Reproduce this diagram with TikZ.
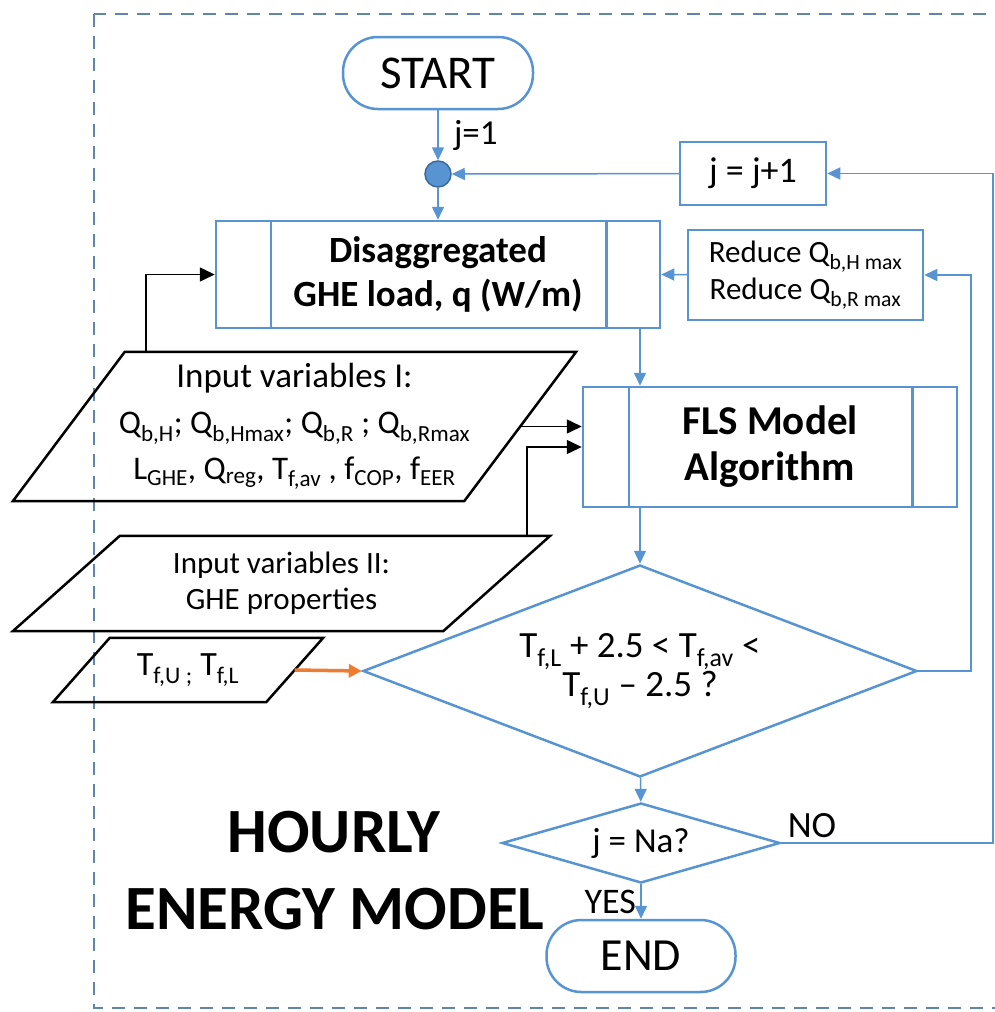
\documentclass[tikz,border=0pt]{standalone}
\usepackage{fontspec}
\setmainfont{Carlito}
\usetikzlibrary{shapes,arrows.meta,positioning,calc}
\definecolor{flowblue}{RGB}{88,148,210}
\definecolor{dotblue}{RGB}{60,105,155}
\definecolor{framegray}{RGB}{96,132,172}
\definecolor{feedorange}{RGB}{237,125,49}

% slanted outline round a data node: #1 node name, #2 half of the slant
\newcommand{\slantbox}[2]{%
  \draw[para] ($(#1.north west)+(#2,0)$) -- ($(#1.north east)+(#2,0)$)
    -- ($(#1.south east)-(#2,0)$) -- ($(#1.south west)-(#2,0)$) -- cycle;}

\begin{document}
\begin{tikzpicture}[x=1pt, y=-1pt,
    box/.style={draw=flowblue, line width=2.5pt, inner sep=0pt, align=center},
    term/.style={box, rounded corners=35pt, minimum width=190pt, minimum height=72pt},
    data/.style={inner sep=0pt, align=center},
    para/.style={draw=black, line width=2.5pt},
    cond/.style={box, diamond},
    flow/.style={flowblue, line width=1.5pt, -{Triangle[length=13pt, width=12pt]}},
    feed/.style={black, line width=1.5pt, -{Triangle[length=15pt, width=14pt]}},
    frame/.style={framegray, line width=2.2pt, dash pattern=on 13pt off 9pt}
]
    \useasboundingbox (0,0) rectangle (995,1012);
    \clip (0,0) rectangle (995,1012);
    \draw[frame] (94,14) rectangle (1020,1008);

    % main column
    \node[term, font=\fontsize{47}{52}\selectfont] (start) at (438,73) {START};
    \node[circle, draw=dotblue, fill=flowblue, line width=1.5pt, minimum size=26pt, inner sep=0pt] (join) at (438,174) {};
    \node[box, minimum width=444pt, minimum height=107pt, font=\bfseries\fontsize{37}{44}\selectfont] (load) at (438,274.5) {Disaggregated\\GHE load, q (W/m)};
    \node[box, minimum width=146pt, minimum height=63pt, font=\fontsize{36}{42}\selectfont] (step) at (753,173.5) {j = j+1};
    \node[box, minimum width=235pt, minimum height=90pt, font=\fontsize{31}{37}\selectfont] (reduce) at (805.5,275) {Reduce Q\textsubscript{b,H max}\\Reduce Q\textsubscript{b,R max}};
    \node[box, minimum width=374pt, minimum height=120pt, font=\bfseries\fontsize{41}{46}\selectfont] (fls) at (770,447) {FLS Model\\Algorithm};
    \node[cond, aspect=2.6, minimum width=554pt, minimum height=212pt, font=\fontsize{37}{39}\selectfont] (check) at (640,671) {T\textsubscript{f,L} + 2.5 < T\textsubscript{f,av} <\\T\textsubscript{f,U} -- 2.5 ?};
    \node[cond, aspect=3.5, minimum width=278pt, minimum height=80pt, font=\fontsize{35}{38}\selectfont] (last) at (641,843) {j = Na?};
    \node[term, minimum width=189pt, font=\fontsize{46}{52}\selectfont] (end) at (641,956) {END};

    % inputs
    \node[data, minimum width=451pt, minimum height=149pt, font=\fontsize{33}{46}\selectfont] (inI) at (294.5,426.5)
        {{\fontsize{35}{46}\selectfont Input variables I:}\\Q\textsubscript{b,H}; Q\textsubscript{b,Hmax}; Q\textsubscript{b,R} ; Q\textsubscript{b,Rmax}\\L\textsubscript{GHE}, Q\textsubscript{reg}, T\textsubscript{f,av} , f\textsubscript{COP}, f\textsubscript{EER}};
    \node[data, minimum width=430pt, minimum height=95pt, font=\fontsize{31}{36}\selectfont] (inII) at (281.5,583.5)
        {Input variables II:\\GHE properties};
    \node[data, minimum width=213pt, minimum height=64pt, font=\fontsize{34}{36}\selectfont] (tf) at (188,670)
        {T\textsubscript{f,U ;} T\textsubscript{f,L}};
    \slantbox{inI}{56}
    \slantbox{inII}{53.5}
    \slantbox{tf}{28.5}

    % sub-process bars
    \draw[flowblue, line width=2.5pt] ([xshift=56pt]load.north west) -- ([xshift=56pt]load.south west);
    \draw[flowblue, line width=2.5pt] ([xshift=-55pt]load.north east) -- ([xshift=-55pt]load.south east);
    \draw[flowblue, line width=2.5pt] ([xshift=47pt]fls.north west) -- ([xshift=47pt]fls.south west);
    \draw[flowblue, line width=2.5pt] ([xshift=-46pt]fls.north east) -- ([xshift=-46pt]fls.south east);

    \coordinate (rim) at (993,843);
    \coordinate (side) at (971,671);

    \draw[flow] (start) -- (join) node[midway, right=12pt, black, font=\fontsize{35}{38}\selectfont] (init) {j=1};
    \draw[flow] (join) -- (load);
    \draw[flow] (step) -- (join);
    \draw[flow] (reduce) -- (load.east);
    \draw[flow] (load.south -| check.north) -- (fls.north -| check.north);
    \draw[flow] (fls.south -| check.north) -- (check.north);
    \draw[flow] (check) -- (last);
    \draw[flow] (last) -- (end) node[midway, left=1pt, black, font=\fontsize{36}{38}\selectfont] (yes) {YES};
    \draw[flow] (check.east) -- (side) |- (reduce.east);
    \draw[flow] (last.east) -- (rim) |- (step.east);
    \node[font=\fontsize{37}{40}\selectfont] (no) at (812,826) {NO};

    \draw[feed] (inI.east) -- (inI.east -| fls.west);
    \draw[feed] ($(inII.north east)+(30.5,0)$) |- (fls.west);
    \draw[feed] ($(inI.north west)+(77,0)$) |- (load.west);
    \draw[feedorange, line width=3.5pt, -{Triangle[length=13pt, width=13pt]}] (tf.east) -- (check.west);

    % title
    \node[font=\bfseries\fontsize{63}{70}\selectfont] (title) at (334,832) {HOURLY};
    \node[font=\bfseries\fontsize{63}{70}\selectfont] (subtitle) at (335,909) {ENERGY MODEL};
\end{tikzpicture}
\end{document}
